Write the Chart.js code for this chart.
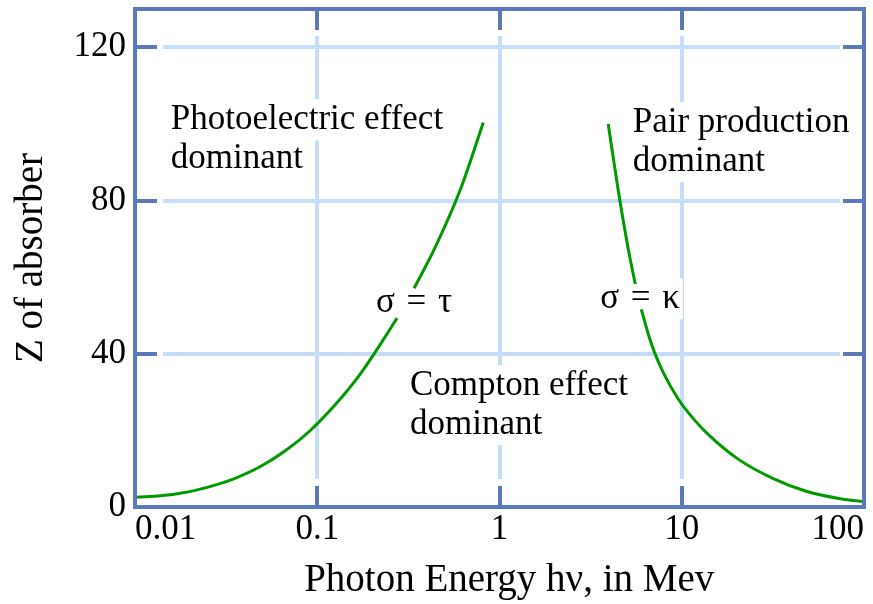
<!DOCTYPE html>
<html>
<head>
<meta charset="utf-8">
<script src="https://cdn.jsdelivr.net/npm/chart.js@4/dist/chart.umd.min.js"></script>
<style>
html,body{margin:0;padding:0;background:#fff;}
#wrap{width:873px;height:604px;}
</style>
</head>
<body>
<div id="wrap"><canvas id="c" width="873" height="604"></canvas></div>
<script>
// ---- data ----
const xTickValues = [0.01, 0.1, 1, 10, 100];
const xTickLabels = ['0.01', '0.1', '1', '10', '100'];
const yTickValues = [0, 40, 80, 120];
const yTickLabels = ['0', '40', '80', '120'];

// sigma = tau boundary (photoelectric / Compton)
const photoEnergy = [0.01, 0.0121, 0.0146, 0.0177, 0.0214, 0.0275, 0.0354, 0.0485, 0.0665, 0.0913, 0.125, 0.172, 0.235, 0.274, 0.305, 0.340, 0.443, 0.607, 0.815];
const photoZ      = [2.55, 2.71,   3.05,   3.60,   4.34,   5.70,   7.50,   10.5,   14.6,   19.9,   26.6,  34.7,  44.3,  49.3,  null,  57.1,  67.7,  82.6,  100.4];

// sigma = kappa boundary (Compton / pair production)
const pairEnergy = [3.95, 4.49, 5.09, 5.56, 5.78, 6.00, 6.56, 7.07, 7.92, 9.57, 11.6, 14.0, 20.4, 31.8, 48.2, 74.1, 100];
const pairZ      = [100.0, 82.4, 67.3, 58.2, null, 51.6, 45.1, 40.5, 35.1, 28.2, 23.0, 18.9, 12.5, 7.4, 4.1, 2.15, 1.4];

// region labels (anchored in data coordinates)
const noteTexts = [['Photoelectric effect', 'dominant'], ['Pair production', 'dominant'], ['Compton effect', 'dominant'], ['σ\u2004=\u2004τ'], ['σ\u2004=\u2004κ']];
const noteEnergy = [0.0157, 5.38, 0.3228, 0.3396, 5.90];
const noteZ = [98.6, 97.9, 29.2, 51.0, 51.9];
const noteAlign = ['left', 'left', 'left', 'center', 'center'];

// ---- styles ----
const FRAME = '#5b78b8';
const GRID = '#c6ddfa';
const CURVE = '#009900';
const SERIF = '"Liberation Serif", "Times New Roman", serif';

const notesPlugin = {
  id: 'notes',
  beforeDatasetsDraw(chart) {
    const ctx = chart.ctx;
    const xs = chart.scales.x, ys = chart.scales.y;
    ctx.save();
    ctx.font = '35px ' + SERIF;
    ctx.textBaseline = 'alphabetic';
    ctx.textAlign = 'left';
    noteTexts.forEach((lines, k) => {
      const px = xs.getPixelForValue(noteEnergy[k]);
      const py = ys.getPixelForValue(noteZ[k]);
      lines.forEach((t, i) => {
        const w = ctx.measureText(t).width;
        const bl = py + i * 39;
        const left = noteAlign[k] === 'center' ? px - w / 2 : px;
        ctx.fillStyle = '#ffffff';
        ctx.fillRect(left - 3, bl - 30, w + 6, 41);
        ctx.fillStyle = '#000000';
        ctx.fillText(t, left, bl);
      });
    });
    ctx.restore();
  }
};

const pts = (xs, ys) => xs.map((v, i) => ({x: v, y: ys[i]}));
const fixSize = (w, h) => s => {
  if (w !== null) s.width = w;
  if (h !== null) s.height = h;
  s.paddingTop = 0; s.paddingBottom = 0; s.paddingLeft = 0; s.paddingRight = 0;
};

new Chart(document.getElementById('c'), {
  type: 'line',
  data: {
    datasets: [
      {data: pts(photoEnergy, photoZ), borderColor: CURVE, borderWidth: 3, pointRadius: 0, cubicInterpolationMode: 'monotone', spanGaps: false, fill: false},
      {data: pts(pairEnergy, pairZ), borderColor: CURVE, borderWidth: 3, pointRadius: 0, cubicInterpolationMode: 'monotone', spanGaps: false, fill: false}
    ]
  },
  options: {
    responsive: false,
    animation: false,
    devicePixelRatio: 1,
    layout: {padding: {left: 0, top: 9, right: 9, bottom: 0}},
    plugins: {legend: {display: false}, tooltip: {enabled: false}},
    scales: {
      x: {
        type: 'logarithmic', position: 'bottom', min: 0.01, max: 100,
        afterBuildTicks: s => { s.ticks = xTickValues.map(v => ({value: v})); },
        afterFit: fixSize(null, 97),
        ticks: {autoSkip: false, maxRotation: 0, align: 'inner', padding: 23, color: '#000', font: {family: SERIF, size: 35}, callback: (v, i) => xTickLabels[i]},
        grid: {color: GRID, lineWidth: 4, tickColor: FRAME, tickWidth: 4, tickLength: -21},
        border: {color: FRAME, width: 4, dash: [0, 27, 443, 1000], z: 1},
        title: {display: true, text: '\u2002Photon Energy hν, in Mev', color: '#000', font: {family: SERIF, size: 39}, padding: {top: 0, bottom: 0}}
      },
      x2: {
        type: 'logarithmic', position: 'top', min: 0.01, max: 100,
        afterBuildTicks: s => { s.ticks = xTickValues.map(v => ({value: v})); },
        afterFit: fixSize(null, 0),
        ticks: {display: false},
        grid: {drawOnChartArea: false, color: GRID, lineWidth: 4, tickColor: FRAME, tickWidth: 4, tickLength: -21},
        border: {color: FRAME, width: 4, z: 1}
      },
      y: {
        type: 'linear', position: 'left', min: 0, max: 130,
        afterBuildTicks: s => { s.ticks = yTickValues.map(v => ({value: v})); },
        afterFit: fixSize(135, null),
        ticks: {padding: 31, color: '#000', font: {family: SERIF, size: 35}, callback: (v, i) => yTickLabels[i]},
        grid: {color: GRID, lineWidth: 4, tickColor: FRAME, tickWidth: 4, tickLength: -22},
        border: {color: FRAME, width: 4, dash: [0, 26, 677, 1000], z: 1},
        title: {display: true, text: 'Z of absorber', color: '#000', font: {family: SERIF, size: 39}, padding: {top: 8, bottom: 0}}
      },
      y2: {
        type: 'linear', position: 'right', min: 0, max: 130,
        afterBuildTicks: s => { s.ticks = yTickValues.map(v => ({value: v})); },
        afterFit: fixSize(0, null),
        ticks: {display: false},
        grid: {drawOnChartArea: false, color: GRID, lineWidth: 4, tickColor: FRAME, tickWidth: 4, tickLength: -21},
        border: {color: FRAME, width: 4, z: 1}
      }
    }
  },
  plugins: [notesPlugin]
});
</script>
</body>
</html>
